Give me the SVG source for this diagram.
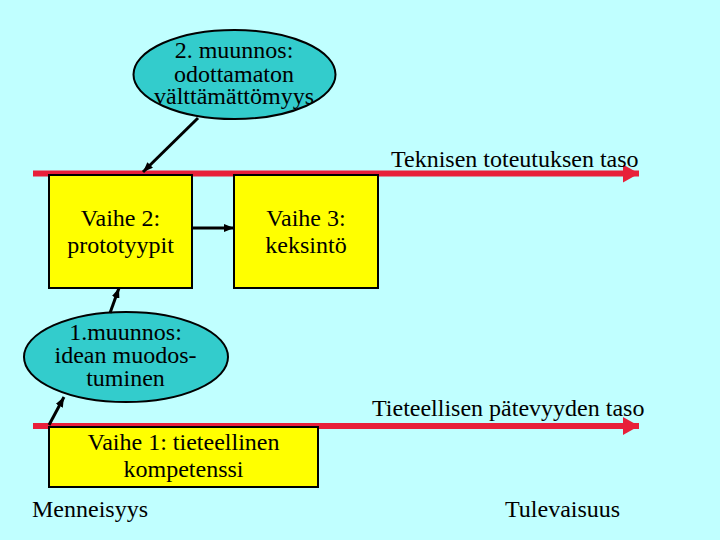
<svg xmlns="http://www.w3.org/2000/svg" width="720" height="540" viewBox="0 0 720 540">
<defs>
<style>
text{font-family:"Liberation Serif","Times New Roman",serif;font-size:24px;fill:#000}
.c{text-anchor:middle}
.box{fill:#FFFF00;stroke:#000;stroke-width:2}
.ell{fill:#33CCCC;stroke:#000;stroke-width:2}
.lvl{stroke:#E8203A;stroke-width:6;fill:none}
.con{stroke:#000;stroke-width:3;fill:none}
</style>
<marker id="ra" markerUnits="userSpaceOnUse" viewBox="0 0 16 18" refX="16" refY="9" markerWidth="16" markerHeight="18" orient="auto">
<path d="M0,0 L16,9 L0,18 Z" fill="#E8203A"/>
</marker>
<marker id="ba" markerUnits="userSpaceOnUse" viewBox="0 0 10 8" refX="10" refY="4" markerWidth="10" markerHeight="8" orient="auto">
<path d="M0,0 L10,4 L0,8 Z" fill="#000"/>
</marker>
</defs>
<rect width="720" height="540" fill="#C0FFFF"/>
<g id="levels">
<line class="lvl" x1="33" y1="173.5" x2="639" y2="173.5" marker-end="url(#ra)"/>
<line class="lvl" x1="33" y1="426" x2="639" y2="426" marker-end="url(#ra)"/>
<text x="391" y="167">Teknisen toteutuksen taso</text>
<text x="372" y="416">Tieteellisen pätevyyden taso</text>
</g>
<g id="muunnos2">
<ellipse class="ell" cx="234.5" cy="74.5" rx="101" ry="44.5"/>
<text class="c" x="234" y="58">2. muunnos:</text>
<text class="c" x="234" y="82">odottamaton</text>
<text class="c" x="234" y="104">välttämättömyys</text>
</g>
<g id="vaihe2">
<rect class="box" x="49" y="175" width="143" height="113"/>
<text class="c" x="120.5" y="226">Vaihe 2:</text>
<text class="c" x="120.5" y="253">prototyypit</text>
</g>
<g id="vaihe3">
<rect class="box" x="234" y="175" width="144" height="113"/>
<text class="c" x="306" y="226">Vaihe 3:</text>
<text class="c" x="306" y="253">keksintö</text>
</g>
<g id="muunnos1">
<ellipse class="ell" cx="126" cy="357" rx="102" ry="45"/>
<text class="c" x="125.5" y="340">1.muunnos:</text>
<text class="c" x="125.5" y="363">idean muodos-</text>
<text class="c" x="125.5" y="386">tuminen</text>
</g>
<g id="vaihe1">
<rect class="box" x="49" y="427" width="269" height="60"/>
<text class="c" x="183.5" y="450">Vaihe 1: tieteellinen</text>
<text class="c" x="183.5" y="477">kompetenssi</text>
</g>
<g id="connectors">
<line class="con" x1="198" y1="118" x2="143" y2="172" marker-end="url(#ba)"/>
<line class="con" x1="192" y1="228" x2="234" y2="228" marker-end="url(#ba)"/>
<line class="con" x1="110" y1="313" x2="119" y2="288" marker-end="url(#ba)"/>
<line class="con" x1="49" y1="425" x2="64" y2="397" marker-end="url(#ba)"/>
</g>
<g id="labels">
<text x="32" y="517">Menneisyys</text>
<text x="505" y="517">Tulevaisuus</text>
</g>
</svg>
